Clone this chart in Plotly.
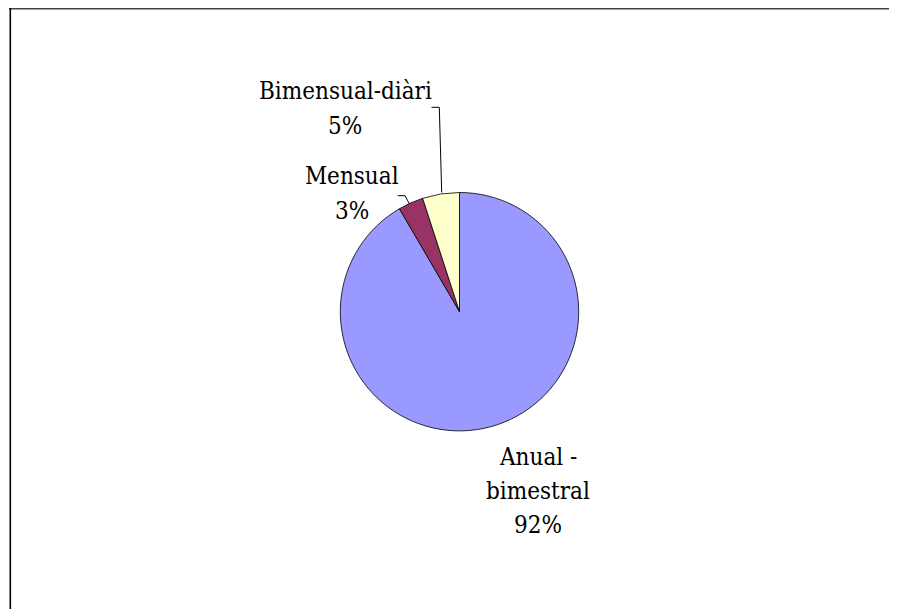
import plotly.graph_objects as go

W, H = 897, 609
OFF = 8  # page body margin

# Data
categories = ["Anual - bimestral", "Mensual", "Bimensual-diàri"]
label_lines = [["Anual -", "bimestral"], ["Mensual"], ["Bimensual-diàri"]]
values = [91.6, 3.4, 5.0]
colors = ["#9999FF", "#993366", "#FFFFCC"]

total = sum(values)
pcts = [round(v / total * 100) for v in values]

def px(x):
    return (x - OFF) / W

def py(y):
    return 1 - (y - OFF) / H

cx, cy, r = 459.5, 311.7, 119.2

fig = go.Figure(go.Pie(
    labels=categories,
    values=values,
    marker=dict(colors=colors, line=dict(color="#000000", width=0.8)),
    sort=False,
    direction="clockwise",
    rotation=0,
    textinfo="none",
    hoverinfo="label+percent",
    showlegend=False,
    domain=dict(x=[px(cx - r), px(cx + r)], y=[py(cy + r), py(cy - r)]),
))

FS = 24
font = dict(family="DejaVu Serif Condensed", size=FS, color="#000000")

# label block: centre x, baseline of first line, line pitch
label_pos = [(538, 466, 34), (352, 185, 34.5), (345, 100, 34.5)]
annotations = []
for lines, p, (lx, by, pitch) in zip(label_lines, pcts, label_pos):
    for i, t in enumerate(lines + [f"{p}%"]):
        base = by + i * pitch
        annotations.append(dict(
            x=px(lx), y=py(base - 8.7), xref="paper", yref="paper",
            text=t, showarrow=False, font=font,
            xanchor="center", yanchor="middle", align="center",
        ))

def seg(x0, y0, x1, y1, color="#000000", width=1):
    return dict(type="line", xref="paper", yref="paper",
                x0=px(x0), y0=py(y0), x1=px(x1), y1=py(y1),
                line=dict(color=color, width=width))

shapes = [
    # leader lines
    seg(431.5, 107.3, 439.3, 107.3),
    seg(439.3, 107.3, 441.7, 192.5),
    seg(397.7, 195.7, 405, 195.7),
    seg(405, 195.7, 409.5, 204),
    # frame
    seg(9, 8.5, 920, 8.5, color="#444444", width=2),
    seg(10.3, 8, 10.3, 630, color="#000000", width=1.6),
]

fig.update_layout(
    width=W, height=H,
    margin=dict(l=0, r=0, t=0, b=0),
    paper_bgcolor="#FFFFFF",
    plot_bgcolor="#FFFFFF",
    annotations=annotations,
    shapes=shapes,
)

fig.write_html("out.html")
